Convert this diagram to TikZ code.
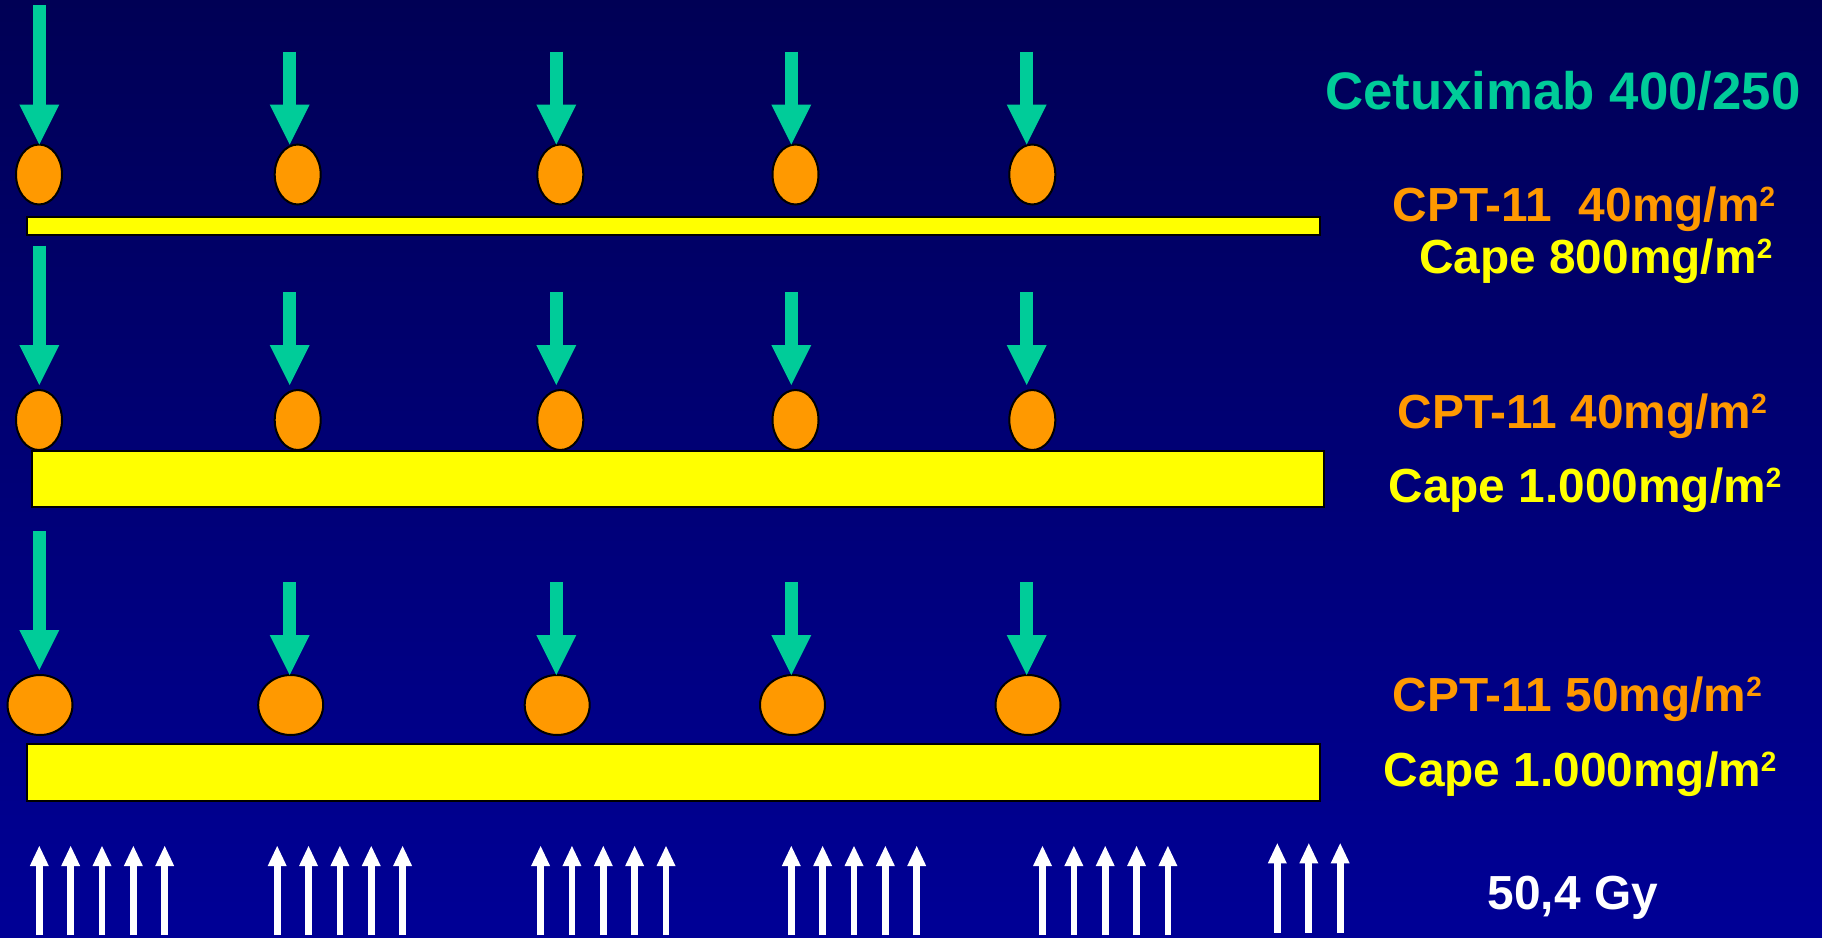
\documentclass[tikz,border=0pt]{standalone}
\usepackage{fontspec}
\setmainfont{Liberation Sans}
\usetikzlibrary{shapes.geometric,arrows.meta}
\definecolor{bgtop}{RGB}{0,0,85}
\definecolor{bgbot}{RGB}{0,0,150}
\definecolor{dosegreen}{HTML}{00CC99}
\definecolor{cptorange}{HTML}{FF9900}
\definecolor{capeyellow}{HTML}{FFFF00}
% superscript two for the m^2 units
\newcommand\sqr{\raisebox{15bp}{\fontsize{28}{28}\selectfont 2}}

\begin{document}
\begin{tikzpicture}[x=1bp,y=-1bp,
  pill/.style={ellipse,draw=black,line width=2bp,fill=cptorange,inner sep=0pt,outer sep=0pt},
  bar/.style={rectangle,draw=black,line width=2bp,fill=capeyellow,inner sep=0pt,outer sep=0pt},
  dose/.style={draw=dosegreen,line width=13.3bp,-{Triangle[length=40bp,width=40bp,line width=0pt]}},
  ray/.style={draw=white,line width=6.7bp,-{Triangle[length=20bp,width=19bp,line width=0pt]}},
  lbl/.style={anchor=base west,inner sep=0pt,font=\bfseries\fontsize{48}{56}\selectfont}]

% background
\useasboundingbox (0,0) rectangle (1822,937);
\shade[top color=bgtop,bottom color=bgbot] (0,0) rectangle (1822,937);

% capecitabine bars
\node[bar,minimum width=1293.3bp,minimum height=18.3bp] (bar1) at (673.35,225.85) {};
\node[bar,minimum width=1292.6bp,minimum height=56bp] (bar2) at (678,478.5) {};
\node[bar,minimum width=1293.3bp,minimum height=56.5bp] (bar3) at (673.65,772.25) {};

% irinotecan doses
\foreach \x [count=\i] in {39,297.7,560.3,795.5,1032.3}
  \node[pill,minimum width=46bp,minimum height=60bp] (r1e\i) at (\x,174.5) {};
\foreach \x [count=\i] in {39,297.7,560.3,795.5,1032.3}
  \node[pill,minimum width=46bp,minimum height=60bp] (r2e\i) at (\x,420) {};
\foreach \x [count=\i] in {40,290.7,557.2,792.5,1028}
  \node[pill,minimum width=65bp,minimum height=60bp] (r3e\i) at (\x,705) {};

% cetuximab doses
\foreach \x/\t [count=\i] in {39.3/5.3,289.7/51.7,556.3/51.7,791.3/51.7,1026.7/51.7} {
  \coordinate (r1a\i) at (\x,\t);
  \draw[dose] (r1a\i) -- (r1a\i |- r1e\i.north);
}
\foreach \x/\t [count=\i] in {39.3/245.7,289.7/292.3,556.3/292.3,791.3/292.3,1026.7/292.3} {
  \coordinate (r2a\i) at (\x,\t);
  \draw[dose,shorten >=5bp] (r2a\i) -- (r2a\i |- r2e\i.north);
}
\coordinate (r3a1) at (39.3,531.3);
\draw[dose,shorten >=5bp] (r3a1) -- (r3a1 |- r3e1.north);
\foreach \x [count=\i from 2] in {289.7,556.3,791.3,1026.7} {
  \coordinate (r3a\i) at (\x,582.3);
  \draw[dose] (r3a\i) -- (r3a\i |- r3e\i.north);
}

% radiotherapy fractions
\foreach \g [count=\j] in {39.3,277.2,540.6,791.3,1042.5}
  \foreach \k in {0,...,4} {
    \coordinate (wb\j-\k) at ({\g+31.35*\k},935);
    \coordinate (wt\j-\k) at ({\g+31.35*\k},846);
    \draw[ray] (wb\j-\k) -- (wt\j-\k);
  }
\foreach \x [count=\k] in {1277.3,1308.8,1340.2} {
  \coordinate (wb6-\k) at (\x,932.7);
  \coordinate (wt6-\k) at (\x,843.3);
  \draw[ray] (wb6-\k) -- (wt6-\k);
}

% labels
\node[lbl,text=dosegreen,font=\bfseries\fontsize{53}{60}\selectfont] (cetux) at (1325,109) {Cetuximab 400/250};
\node[lbl,text=cptorange] (cpt1) at (1392.7,221.7) {CPT-11\ \ 40mg/m\sqr};
\node[lbl,text=capeyellow] (cape1) at (1419,273.3) {Cape 800mg/m\sqr};
\node[lbl,text=cptorange] (cpt2) at (1397.7,428.3) {CPT-11 40mg/m\sqr};
\node[lbl,text=capeyellow] (cape2) at (1388.3,502.7) {Cape 1.000mg/m\sqr};
\node[lbl,text=cptorange] (cpt3) at (1392.7,711.7) {CPT-11 50mg/m\sqr};
\node[lbl,text=capeyellow] (cape3) at (1383.3,786.7) {Cape 1.000mg/m\sqr};
\node[lbl,text=white] (gy) at (1487.5,909.3) {50,4 Gy};
\end{tikzpicture}
\end{document}
